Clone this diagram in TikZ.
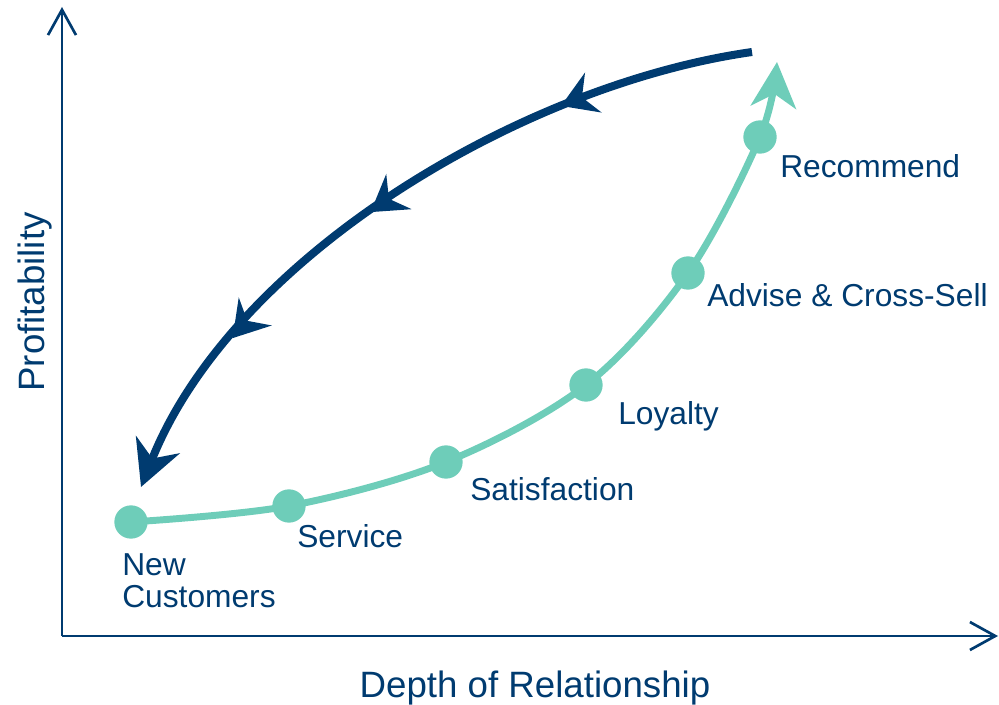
\documentclass[tikz,border=0pt]{standalone}
\usepackage{fontspec}
\setmainfont{Liberation Sans}
\usetikzlibrary{arrows.meta,decorations.markings}
\definecolor{navy}{RGB}{0,59,112}
\definecolor{teal2}{RGB}{110,205,185}
\tikzset{
  axis/.style={navy,line width=2pt,-{Straight Barb[length=19pt,width=21pt,line width=2pt]}},
  lbl/.style={anchor=base west,inner sep=0pt,text=navy,font=\fontsize{23.8}{28}\selectfont},
  axlbl/.style={inner sep=0pt,text=navy,font=\fontsize{27.5}{32}\selectfont},
  dot/.style={circle,fill=teal2,minimum size=25pt,inner sep=0pt},
}
\begin{document}
\begin{tikzpicture}[x=0.75pt,y=-0.75pt]
\useasboundingbox (0,0) rectangle (999,705);
% axes
\coordinate (O) at (62,636);
\coordinate (Ytop) at (62,7);
\coordinate (Xend) at (998,636);
\draw[axis] (O) -- (Ytop);
\draw[axis] (O) -- (Xend);
\node[axlbl,anchor=base] (ylab) at (358+177,697) {Depth of Relationship};
\node[axlbl,anchor=base,rotate=90] (xlab) at (44,302) {Profitability};
% dark return curve
\coordinate (D0) at (752,52);
\coordinate (D1) at (141,487);
\draw[navy,line width=6pt,-{Stealth[length=34pt,width=35pt,inset=11pt]},
  postaction={decorate},
  decoration={markings,
    mark=at position 0.255 with {\arrow{Stealth[length=26pt,width=32pt,inset=9pt]}},
    mark=at position 0.535 with {\arrow{Stealth[length=26pt,width=32pt,inset=9pt]}},
    mark=at position 0.775 with {\arrow{Stealth[length=26pt,width=32pt,inset=9pt]}}}]
  (D0) .. controls (520,85) and (232,258) .. (D1);
% teal growth curve
\coordinate (N) at (131,522);
\coordinate (S) at (289,506);
\coordinate (Sa) at (446,462);
\coordinate (L) at (586,385);
\coordinate (A) at (688,273);
\coordinate (R) at (760,137);
\coordinate (T) at (777,62);
\draw[teal2,line width=5.2pt,-{Stealth[length=34pt,width=34pt,inset=10pt]}]
  plot[smooth,tension=0.55] coordinates {(N) (S) (Sa) (L) (A) (R) (T)};
\node[dot] (nN) at (N) {};
\node[dot] (nS) at (S) {};
\node[dot] (nSa) at (Sa) {};
\node[dot] (nL) at (L) {};
\node[dot] (nA) at (A) {};
\node[dot] (nR) at (R) {};
% labels
\node[lbl] (tR) at (780,178) {Recommend};
\node[lbl] (tA) at (707,307) {Advise \& Cross-Sell};
\node[lbl] (tL) at (618,425) {Loyalty};
\node[lbl] (tSa) at (470,500) {Satisfaction};
\node[lbl] (tS) at (297,547) {Service};
\node[lbl] (tN1) at (122,575) {New};
\node[lbl] (tN2) at (122,607) {Customers};
\end{tikzpicture}
\end{document}
